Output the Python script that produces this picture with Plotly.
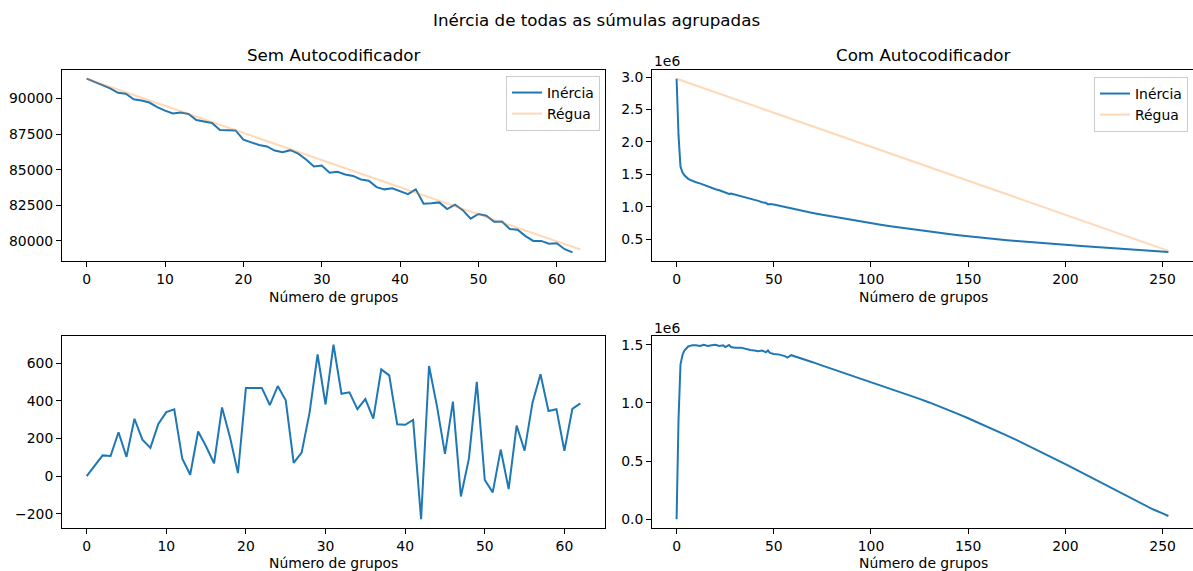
import plotly.graph_objects as go

# ---- "Sem Autocodificador": inertia per number of groups (0..62) ----
GRUPOS_SEM = list(range(63))
INERCIA_SEM = [
    91400, 91155, 90909, 90722, 90405, 90346, 89952, 89873, 89726, 89408,
    89155, 88950, 89020, 88917, 88496, 88386, 88284, 87797, 87764, 87765,
    87121, 86931, 86741, 86641, 86350, 86235, 86378, 86132, 85728, 85229,
    85305, 84796, 84867, 84668, 84568, 84323, 84237, 83784, 83626, 83695,
    83508, 83292, 83630, 82624, 82648, 82711, 82242, 82557, 82166, 81566,
    81897, 81773, 81354, 81374, 80845, 80789, 80341, 80001, 80006, 79806,
    79836, 79423, 79204,
]
# straight reference line ("Régua")
REGUA_SEM_X = [0, 63]
REGUA_SEM_Y = [91400, 79400]
# distance between the ruler and the inertia curve
DIST_SEM = [
    0, 55, 110, 107, 233, 102, 305, 194, 150, 278,
    340, 355, 94, 7, 237, 157, 68, 365, 207, 16,
    469, 469, 469, 378, 479, 403, 70, 125, 339, 647,
    381, 699, 438, 446, 356, 410, 306, 568, 536, 276,
    273, 299, -230, 586, 371, 118, 396, -109, 91, 501,
    -21, -87, 141, -69, 269, 135, 392, 542, 346, 356,
    135, 358, 387,
]

# ---- "Com Autocodificador": values in millions (axis offset 1e6) ----
GRUPOS_COM = [
    0, 1, 2, 3, 4, 5, 6, 7, 8,
    10, 12, 14, 16, 18, 20, 22, 24, 25, 26, 27, 28,
    30, 33, 36, 38, 40, 42, 44, 45, 46, 47, 48, 50,
    53, 56, 57, 59, 62, 66, 70, 75,
    80, 85, 90, 95, 100, 105, 110, 115, 120, 125, 130, 135, 140, 145, 150,
    155, 160, 165, 170, 175, 180, 185, 190, 195, 200, 205, 210, 215, 220,
    225, 230, 235, 240, 245, 250, 253,
]
INERCIA_COM = [
    2.975, 2.10, 1.62, 1.53, 1.485, 1.455, 1.43, 1.413, 1.398,
    1.378, 1.36, 1.335, 1.318, 1.295, 1.27, 1.255, 1.232, 1.232, 1.215, 1.198, 1.202,
    1.187, 1.158, 1.139, 1.123, 1.107, 1.09, 1.07, 1.065, 1.058, 1.036, 1.043, 1.033,
    1.012, 0.993, 0.985, 0.972, 0.953, 0.928, 0.904, 0.875,
    0.848, 0.822, 0.797, 0.771, 0.745, 0.722, 0.699, 0.677, 0.656, 0.635, 0.615,
    0.596, 0.578, 0.560, 0.543, 0.527, 0.512, 0.497, 0.483, 0.470, 0.457, 0.445,
    0.433, 0.422, 0.411, 0.401, 0.391, 0.381, 0.371, 0.362, 0.352, 0.343, 0.331,
    0.320, 0.308, 0.300,
]
REGUA_COM_X = [0, 253]
REGUA_COM_Y = [2.975, 0.32]
DIST_COM = [
    0, 0.86, 1.33, 1.41, 1.45, 1.47, 1.485, 1.49, 1.495,
    1.495, 1.49, 1.5, 1.49, 1.495, 1.5, 1.49, 1.495, 1.48, 1.49, 1.497, 1.48,
    1.475, 1.475, 1.46, 1.455, 1.45, 1.445, 1.45, 1.44, 1.435, 1.45, 1.43, 1.42,
    1.415, 1.40, 1.39, 1.41, 1.395, 1.372, 1.35, 1.32,
    1.292, 1.263, 1.235, 1.206, 1.177, 1.149, 1.121, 1.092, 1.064, 1.035, 1.004,
    0.972, 0.939, 0.904, 0.868, 0.832, 0.795, 0.757, 0.719, 0.680, 0.640, 0.599,
    0.558, 0.516, 0.474, 0.431, 0.387, 0.343, 0.299, 0.255, 0.211, 0.168, 0.126,
    0.086, 0.050, 0.028,
]

TICKS_SEM_X = [0, 10, 20, 30, 40, 50, 60]
TICKS_COM_X = [0, 50, 100, 150, 200, 250]
TICKS_SEM_Y = [80000, 82500, 85000, 87500, 90000]
TICKS_DIST_SEM_Y = [-200, 0, 200, 400, 600]
TICKS_COM_Y = [0.5, 1.0, 1.5, 2.0, 2.5, 3.0]
TICKS_DIST_COM_Y = [0.0, 0.5, 1.0, 1.5]

BLUE = "#1f77b4"
ORANGE_FAINT = "rgba(255,127,14,0.3)"
FONT = "DejaVu Sans"
FS = 13.9
FS_TITLE = 16.7

W, H = 1193, 571


def px_x(v):
    return v / W


def px_y(v):
    return 1 - v / H


fig = go.Figure()

fig.add_trace(go.Scatter(x=GRUPOS_SEM, y=INERCIA_SEM, mode="lines", name="Inércia",
                         line=dict(color=BLUE, width=2), xaxis="x", yaxis="y",
                         legend="legend"))
fig.add_trace(go.Scatter(x=REGUA_SEM_X, y=REGUA_SEM_Y, mode="lines", name="Régua",
                         line=dict(color=ORANGE_FAINT, width=2), xaxis="x", yaxis="y",
                         legend="legend"))
fig.add_trace(go.Scatter(x=GRUPOS_COM, y=INERCIA_COM, mode="lines", name="Inércia",
                         line=dict(color=BLUE, width=2), xaxis="x2", yaxis="y2",
                         legend="legend2"))
fig.add_trace(go.Scatter(x=REGUA_COM_X, y=REGUA_COM_Y, mode="lines", name="Régua",
                         line=dict(color=ORANGE_FAINT, width=2), xaxis="x2", yaxis="y2",
                         legend="legend2"))
fig.add_trace(go.Scatter(x=GRUPOS_SEM, y=DIST_SEM, mode="lines", showlegend=False,
                         line=dict(color=BLUE, width=2), xaxis="x3", yaxis="y3"))
fig.add_trace(go.Scatter(x=GRUPOS_COM, y=DIST_COM, mode="lines", showlegend=False,
                         line=dict(color=BLUE, width=2), xaxis="x4", yaxis="y4"))

dom_left = [px_x(62), px_x(605)]
dom_right = [px_x(652), 1.0]
dom_top = [px_y(261), px_y(70)]
dom_bottom = [px_y(528), px_y(336)]

axis_style = dict(showline=True, mirror=True, linecolor="black", linewidth=1,
                  ticks="outside", ticklen=5, tickwidth=1, tickcolor="black",
                  showgrid=False, zeroline=False,
                  tickfont=dict(family=FONT, size=FS, color="black"))


def fmt_int(v):
    return str(v).replace("-", "\u2212")


fig.update_layout(
    width=W, height=H, autosize=False,
    margin=dict(l=0, r=0, t=0, b=0),
    paper_bgcolor="white", plot_bgcolor="white",
    font=dict(family=FONT, size=FS, color="black"),
    xaxis=dict(domain=dom_left, anchor="y", range=[-3.15, 66.15],
               tickvals=TICKS_SEM_X, ticktext=[str(v) for v in TICKS_SEM_X], **axis_style),
    yaxis=dict(domain=dom_top, anchor="x", range=[78594, 92010],
               tickvals=TICKS_SEM_Y, ticktext=[str(v) for v in TICKS_SEM_Y], **axis_style),
    xaxis2=dict(domain=dom_right, anchor="y2", range=[-12.65, 265.65],
                tickvals=TICKS_COM_X, ticktext=[str(v) for v in TICKS_COM_X], **axis_style),
    yaxis2=dict(domain=dom_top, anchor="x2", range=[0.163, 3.109],
                tickvals=TICKS_COM_Y, ticktext=[f"{v:.1f}" for v in TICKS_COM_Y], **axis_style),
    xaxis3=dict(domain=dom_left, anchor="y3", range=[-3.1, 65.1],
                tickvals=TICKS_SEM_X, ticktext=[str(v) for v in TICKS_SEM_X], **axis_style),
    yaxis3=dict(domain=dom_bottom, anchor="x3", range=[-276.5, 745.5],
                tickvals=TICKS_DIST_SEM_Y, ticktext=[fmt_int(v) for v in TICKS_DIST_SEM_Y],
                **axis_style),
    xaxis4=dict(domain=dom_right, anchor="y4", range=[-12.65, 265.65],
                tickvals=TICKS_COM_X, ticktext=[str(v) for v in TICKS_COM_X], **axis_style),
    yaxis4=dict(domain=dom_bottom, anchor="x4", range=[-0.075, 1.575],
                tickvals=TICKS_DIST_COM_Y, ticktext=[f"{v:.1f}" for v in TICKS_DIST_COM_Y],
                **axis_style),
    legend=dict(x=px_x(600), y=px_y(76), xanchor="right", yanchor="top",
                bgcolor="rgba(255,255,255,0.8)", bordercolor="#cccccc", borderwidth=1,
                font=dict(family=FONT, size=FS, color="black")),
    legend2=dict(x=px_x(1188), y=px_y(77), xanchor="right", yanchor="top",
                 bgcolor="rgba(255,255,255,0.8)", bordercolor="#cccccc", borderwidth=1,
                 font=dict(family=FONT, size=FS, color="black")),
)

annotations = [
    dict(text="Inércia de todas as súmulas agrupadas", x=0.5, y=px_y(20),
         font=dict(size=FS_TITLE)),
    dict(text="Sem Autocodificador", x=(dom_left[0] + dom_left[1]) / 2, y=px_y(55),
         font=dict(size=FS_TITLE)),
    dict(text="Com Autocodificador", x=px_x(923), y=px_y(55), font=dict(size=FS_TITLE)),
    dict(text="Número de grupos", x=(dom_left[0] + dom_left[1]) / 2, y=px_y(297)),
    dict(text="Número de grupos", x=px_x(923), y=px_y(297)),
    dict(text="Número de grupos", x=(dom_left[0] + dom_left[1]) / 2, y=px_y(563)),
    dict(text="Número de grupos", x=px_x(923), y=px_y(563)),
    dict(text="1e6", x=px_x(652), y=px_y(61), xanchor="left"),
    dict(text="1e6", x=px_x(652), y=px_y(328), xanchor="left"),
]
for a in annotations:
    a.setdefault("xanchor", "center")
    fig.add_annotation(xref="paper", yref="paper", showarrow=False, yanchor="middle",
                       font=dict(family=FONT, size=a.pop("font", {}).get("size", FS),
                                 color="black"),
                       **a)

fig.write_html("out.html")
